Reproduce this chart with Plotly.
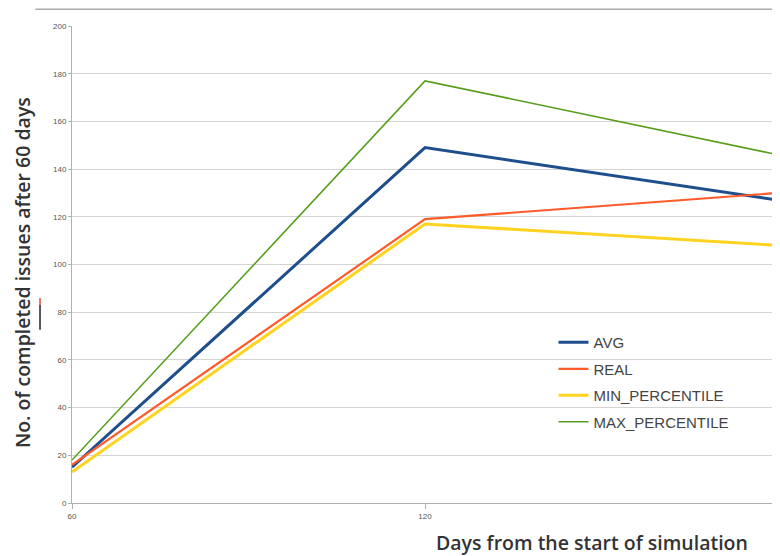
import plotly.graph_objects as go

days = [60, 120, 180]
avg = [15, 149, 127]
real = [16, 119, 130]
min_pct = [13, 117, 108]
max_pct = [18, 177, 146]

series = [
    ("AVG", avg, "#1f4e8c", 3),
    ("REAL", real, "#ff5a2a", 2.2),
    ("MIN_PERCENTILE", min_pct, "#ffd320", 3),
    ("MAX_PERCENTILE", max_pct, "#579d1c", 1.6),
]

fig = go.Figure()
for name, vals, col, w in series:
    fig.add_trace(go.Scatter(x=days, y=vals, mode="lines", name=name, legendgroup=name,
                             line=dict(color=col, width=w)))

fig.update_layout(
    width=772, height=548,
    margin=dict(l=64, r=2, t=18, b=53),
    paper_bgcolor="white", plot_bgcolor="white",
    showlegend=True,
    legend=dict(x=0.682, y=0.371, xanchor="left", yanchor="top",
                font=dict(family="Liberation Sans", size=15, color="#444"),
                bgcolor="rgba(0,0,0,0)", itemwidth=30, tracegroupgap=4),
    font=dict(family="Liberation Sans", color="#555"),
)
fig.update_xaxes(range=[60, 180], tickvals=days, ticktext=["60", "120", "180"],
                 showgrid=False, showline=True, linecolor="#b0b0b0", mirror=False,
                 ticks="outside", ticklen=5, tickcolor="#b0b0b0",
                 tickfont=dict(size=8, color="#555"), zeroline=False)
fig.update_yaxes(range=[0, 200], dtick=20, showgrid=True, gridcolor="#d4d4d4",
                 showline=True, linecolor="#b0b0b0", ticks="outside", ticklen=3,
                 tickcolor="#b0b0b0", tickfont=dict(size=8, color="#555"), zeroline=False)

# right border line
fig.add_shape(type="line", xref="paper", yref="paper", x0=1, x1=1, y0=0, y1=1,
              line=dict(color="#c8c8c8", width=1))
# top faint line
fig.add_shape(type="line", xref="paper", yref="paper", x0=-0.052, x1=1.003, y0=1.035, y1=1.035,
              line=dict(color="#aaaaaa", width=1.5))
# small mark left of axis
fig.add_shape(type="line", xref="paper", yref="paper", x0=-0.0453, x1=-0.0453, y0=0.430, y1=0.415,
              line=dict(color="#e05030", width=1.5))
fig.add_shape(type="line", xref="paper", yref="paper", x0=-0.0453, x1=-0.0453, y0=0.415, y1=0.363,
              line=dict(color="#222222", width=1.5))

fig.add_annotation(text="No. of completed issues after 60 days", xref="paper", yref="paper",
                   x=-0.0708, y=0.482, xanchor="center", yanchor="middle", textangle=-90,
                   showarrow=False, borderpad=0,
                   font=dict(family="Open Sans", size=19.5, color="#333", weight=600))
fig.add_annotation(text="Days from the start of simulation", xref="paper", yref="paper",
                   x=0.7365, y=-0.083, xanchor="center", yanchor="middle",
                   showarrow=False, font=dict(family="Open Sans", size=19.5, color="#333", weight=600))

fig.write_html("out.html")
